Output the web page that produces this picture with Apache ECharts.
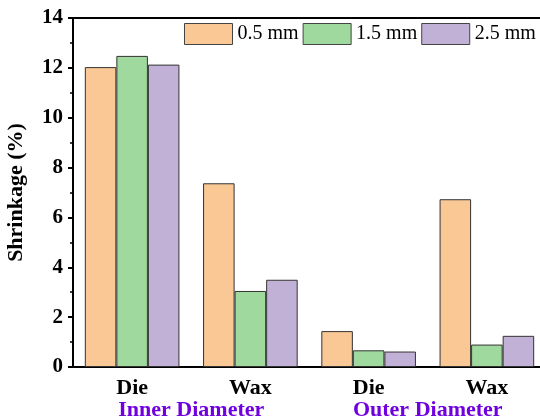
<!DOCTYPE html>
<html><head><meta charset="utf-8">
<script src="https://cdn.jsdelivr.net/npm/echarts@6/dist/echarts.min.js"></script>
<style>html,body{margin:0;padding:0;background:#fff}#c{width:540px;height:418px}</style>
</head><body><div id="c"></div>
<script>
var categories = ["Die", "Wax", "Die", "Wax"];
var groups = ["Inner Diameter", "Outer Diameter"];
var seriesNames = ["0.5 mm", "1.5 mm", "2.5 mm"];
var s05 = [12.03, 7.37, 1.44, 6.73];
var s15 = [12.48, 3.05, 0.67, 0.90];
var s25 = [12.13, 3.50, 0.62, 1.25];
var colors = ["#F9C895", "#A0D99D", "#C2B1D7"];
var yTicks = [0, 2, 4, 6, 8, 10, 12, 14];

var font = "'Liberation Serif', 'Times New Roman', serif";
var chart = echarts.init(document.getElementById('c'));
var data = [s05, s15, s25];
chart.setOption({
  animation: false,
  textStyle: {fontFamily: font},
  grid: {left: 73, right: -6, top: 18, bottom: 51, show: true, borderColor: '#000', borderWidth: 2,
         containLabel: false, outerBoundsMode: 'none'},
  legend: {
    left: 184, top: 23, padding: 0, itemWidth: 48, itemHeight: 21, itemGap: 4,
    icon: 'rect',
    textStyle: {fontFamily: font, fontSize: 20, color: '#000'},
    itemStyle: {borderColor: '#444', borderWidth: 1},
    data: seriesNames
  },
  xAxis: [{
    type: 'category', data: categories, position: 'bottom',
    axisLine: {lineStyle: {color: '#000', width: 2}},
    axisTick: {alignWithLabel: true, length: 5, lineStyle: {width: 2, color: '#000'}},
    axisLabel: {fontFamily: font, fontWeight: 'bold', fontSize: 22, color: '#000', margin: 10}
  }, {
    type: 'category', data: groups, position: 'bottom', offset: 28,
    axisLine: {show: false}, axisTick: {show: false},
    axisLabel: {fontFamily: font, fontWeight: 'bold', fontSize: 22, color: '#7000E0', margin: 4}
  }],
  yAxis: {
    type: 'value', min: 0, max: 14, interval: 2,
    name: 'Shrinkage (%)', nameLocation: 'middle', nameGap: 46,
    nameTextStyle: {fontFamily: font, fontWeight: 'bold', fontSize: 22, color: '#000'},
    axisLine: {show: true, lineStyle: {color: '#000', width: 2}},
    axisTick: {show: true, length: 5, lineStyle: {width: 2, color: '#000'}},
    minorTick: {show: true, splitNumber: 2, length: 3, lineStyle: {width: 1.5, color: '#000'}},
    splitLine: {show: false},
    axisLabel: {fontFamily: font, fontWeight: 'bold', fontSize: 21, color: '#000', margin: 10,
      formatter: function (v) { return yTicks.indexOf(v) >= 0 ? String(v) : ''; }}
  },
  series: seriesNames.map(function (n, i) {
    return {
      name: n, type: 'bar', xAxisIndex: 0, data: data[i],
      barGap: '0%', barCategoryGap: '20%',
      itemStyle: {color: colors[i], borderColor: '#333', borderWidth: 1}
    };
  })
});
</script></body></html>
